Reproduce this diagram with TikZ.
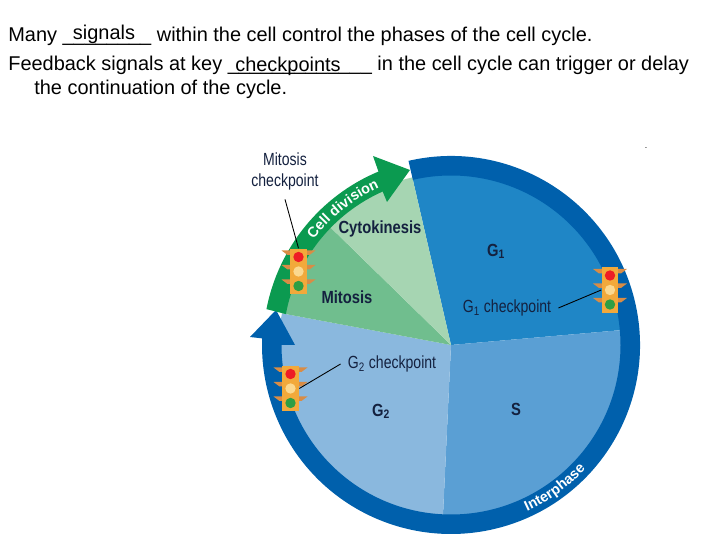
\documentclass[tikz,border=0pt]{standalone}
\usepackage{fontspec}
\setmainfont{Liberation Sans}
\usetikzlibrary{calc,decorations.text}
\definecolor{bandblue}{HTML}{0060AC}
\definecolor{bandgreen}{HTML}{0B9A50}
\definecolor{gonecol}{HTML}{1F86C6}
\definecolor{scol}{HTML}{5A9FD4}
\definecolor{gtwocol}{HTML}{8AB8DE}
\definecolor{mitcol}{HTML}{70BE8E}
\definecolor{cytocol}{HTML}{A6D5B2}
\definecolor{labelcol}{HTML}{14213F}
\definecolor{lightbox}{HTML}{F2A93B}
\definecolor{lightwing}{HTML}{D98C45}
\definecolor{lightred}{HTML}{EE1C25}
\definecolor{lightamber}{HTML}{FBD88F}
\definecolor{lightgreen}{HTML}{2E9E44}
\newcommand{\bandfont}{\bfseries\fontsize{8.2}{9}\selectfont}
\tikzset{
    bodytext/.style={anchor=base west,inner sep=0pt,font=\fontsize{11.35}{13}\selectfont},
    fillin/.style={anchor=base,inner sep=0pt,font=\fontsize{11.35}{13}\selectfont},
    phase/.style={text=labelcol,inner sep=0pt,transform shape,xscale=.84,font=\bfseries\fontsize{10}{12}\selectfont},
    checklabel/.style={text=labelcol,inner sep=5pt,transform shape,xscale=.8,align=center,font=\fontsize{10}{12}\selectfont},
    pics/signal/.style={code={
        \foreach \y in {14.5,0,-14.5}
            \fill[lightwing] (-17,\y+6.5) -- (17,\y+6.5) -- (11,\y+2) -- (-11,\y+2) -- cycle;
        \node[fill=lightbox,minimum width=9.6pt,minimum height=26pt,inner sep=0pt] (-box) at (0,0) {};
        \fill[lightred] (0,14.5) circle[radius=5.2];
        \fill[lightamber] (0,0) circle[radius=5.2];
        \fill[lightgreen] (0,-14.5) circle[radius=5.2];
    }}
}
\begin{document}
\begin{tikzpicture}[x=0.02cm,y=0.02cm]
    \useasboundingbox (0,0) rectangle (720,540);
    \coordinate (hub) at (451,195);

    % the five phases
    \foreach \from/\to/\col in {5/103/gonecol,-92.7/5/scol,169.4/267.3/gtwocol,135.7/169.4/mitcol,103/135.7/cytocol}
        \fill[\col] (hub) -- ++(\from:172) arc[start angle=\from,end angle=\to,radius=172] -- cycle;

    % outer bands
    \fill[bandblue] (hub) ++(103:189) arc[start angle=103,end angle=-182,radius=189]
        -- (250,203) -- (276,230) -- (295,195) -- (281.5,195)
        arc[start angle=-180,end angle=103,radius=169.5] -- cycle;
    \fill[bandgreen] (hub) ++(169:188) arc[start angle=169,end angle=112.7,radius=188]
        -- (373,384) -- (410,370) -- (387,338)
        -- ($(hub)+(114:168)$) arc[start angle=114,end angle=169.4,radius=168] -- cycle;

    \path[decorate,decoration={text along path,text color=white,text align=center,
        text={|\bandfont|Cell division}}]
        (hub) ++(144:173) arc[start angle=144,end angle=113,radius=173];
    \path[decorate,decoration={text along path,text color=white,text align=center,
        text={|\bandfont|Interphase}}]
        (hub) ++(294:183) arc[start angle=294,end angle=318,radius=183];

    % traffic lights
    \pic (mlight) at (298.5,268.5) {signal};
    \pic (gonelight) at (610,250) {signal};
    \pic (gtwolight) at (290.5,151.5) {signal};

    % labels
    \node[phase] (cytolabel) at (380,311.5) {Cytokinesis};
    \node[phase] (mitlabel) at (347,242.5) {Mitosis};
    \node[phase] (gonelabel) at (496,288.5) {G\textsubscript{1}};
    \node[phase] (gtwolabel) at (381,128.5) {G\textsubscript{2}};
    \node[phase] (slabel) at (516,130.5) {S};

    \node[checklabel] (mcheck) at (285,368.5) {Mitosis\\checkpoint};
    \node[checklabel] (gonecheck) at (507,232) {G\textsubscript{1} checkpoint};
    \node[checklabel] (gtwocheck) at (392,176) {G\textsubscript{2} checkpoint};
    \draw[line width=0.5pt] (mcheck.south) -- (mlight-box.north);
    \draw[line width=0.5pt] (gonecheck.east) -- (gonelight-box.west);
    \draw[line width=0.5pt] (gtwocheck.west) -- (gtwolight-box.east);

    % heading
    \node[bodytext] (lineone) at (8,498) {Many \_\_\_\_\_\_\_\_ within the cell control the phases of the cell cycle.};
    \node[bodytext] (linetwo) at (8,469) {Feedback signals at key \_\_\_\_\_\_\_\_\_\_\_\_\_ in the cell cycle can trigger or delay};
    \node[bodytext] (linethree) at (34,445) {the continuation of the cycle.};
    \node[fillin] (signals) at (104,500) {signals};
    \node[fillin] (checkpoints) at (288,468) {checkpoints};
    \node[inner sep=0pt,font=\fontsize{5}{6}\selectfont] (speck) at (646,392) {.};
\end{tikzpicture}
\end{document}
